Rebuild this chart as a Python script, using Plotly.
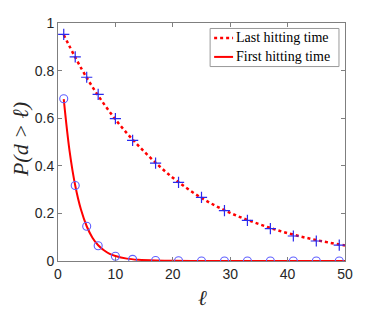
import plotly.graph_objects as go

# Marker sample points
mark_x = [1, 3, 5, 7, 10, 13, 17, 21, 25, 29, 33, 37, 41, 45, 49]
last_marks = [0.952, 0.858, 0.772, 0.700, 0.598, 0.507, 0.411, 0.330, 0.267, 0.212, 0.171, 0.136, 0.105, 0.084, 0.067]
first_marks = [0.682, 0.317, 0.146, 0.064, 0.020, 0.007, 0.002, 0.001, 0.0, 0.0, 0.0, 0.0, 0.0, 0.0, 0.0]

# Curves
last_line_x = [1, 5, 10, 15, 20, 25, 30, 35, 40, 45, 50]
last_line_y = [0.950, 0.770, 0.595, 0.460, 0.350, 0.265, 0.202, 0.155, 0.117, 0.088, 0.065]
first_line_x = [1, 2, 3, 4, 5, 6, 7, 8, 9, 10, 12, 14, 17, 20, 25, 30, 40, 50]
first_line_y = [0.680, 0.465, 0.317, 0.216, 0.146, 0.098, 0.066, 0.045, 0.030, 0.021, 0.010, 0.005, 0.002, 0.001, 0.0, 0.0, 0.0, 0.0]

series_names = ["Last hitting time", "First hitting time"]
x_ticks = [0, 10, 20, 30, 40, 50]
y_ticks = [0, 0.2, 0.4, 0.6, 0.8, 1]
y_tick_labels = ["0", "0.2", "0.4", "0.6", "0.8", "1"]

fig = go.Figure()
fig.add_trace(go.Scatter(x=last_line_x, y=last_line_y, mode="lines", line_shape="spline",
                         line=dict(color="red", width=2.5, dash="dot"), name=series_names[0]))
fig.add_trace(go.Scatter(x=first_line_x, y=first_line_y, mode="lines", line_shape="spline",
                         line=dict(color="red", width=2), name=series_names[1]))
fig.add_trace(go.Scatter(x=mark_x, y=last_marks, mode="markers", showlegend=False,
                         marker=dict(symbol="cross-thin-open", size=8, color="#2a2aee",
                                     line=dict(color="#2a2aee", width=1.2))))
fig.add_trace(go.Scatter(x=mark_x, y=first_marks, mode="markers", showlegend=False,
                         marker=dict(symbol="circle-open", size=8, color="#5f5fff",
                                     line=dict(color="#5f5fff", width=1.1))))

axis_common = dict(showgrid=False, zeroline=False, showline=True, linecolor="#7f7f7f", linewidth=1,
                   mirror="allticks", ticks="inside", ticklen=4, tickcolor="#7f7f7f", automargin=False,
                   tickfont=dict(family="Liberation Sans, Arial", size=14, color="#262626"))

# Legend drawn as a box with line samples and labels
lx0, lx1, ly0, ly1 = 0.530, 0.979, 0.817, 0.977
row_y = [0.937, 0.8575]
shapes = [dict(type="rect", xref="paper", yref="paper", x0=lx0, x1=lx1, y0=ly0, y1=ly1,
               line=dict(color="#999999", width=1), fillcolor="white", layer="above")]
shapes.append(dict(type="line", xref="paper", yref="paper", x0=0.544, x1=0.610, y0=row_y[0], y1=row_y[0],
                   line=dict(color="red", width=2.5, dash="dot"), layer="above"))
shapes.append(dict(type="line", xref="paper", yref="paper", x0=0.544, x1=0.610, y0=row_y[1], y1=row_y[1],
                   line=dict(color="red", width=2), layer="above"))

annotations = [
    dict(text="P(d > ℓ)", xref="paper", yref="paper", x=-0.128, y=0.509,
         xanchor="center", yanchor="middle", textangle=-90, showarrow=False, borderpad=0,
         font=dict(family="Liberation Serif", size=22, color="#262626", style="italic")),
    dict(text="ℓ", xref="paper", yref="paper", x=0.504, y=-0.156,
         xanchor="center", yanchor="middle", showarrow=False,
         font=dict(family="DejaVu Serif", size=21, color="#262626", style="italic")),
]
for name, ry in zip(series_names, row_y):
    annotations.append(dict(text=name, xref="paper", yref="paper", x=0.617, y=ry,
                            xanchor="left", yanchor="middle", showarrow=False, borderpad=0,
                            font=dict(family="Liberation Serif", size=14, color="black")))

fig.update_layout(
    width=374, height=307,
    margin=dict(l=50, r=37, t=15, b=54, autoexpand=False),
    paper_bgcolor="white", plot_bgcolor="white",
    xaxis=dict(range=[0, 50], tickvals=x_ticks, **axis_common),
    yaxis=dict(range=[0, 1], tickvals=y_ticks, ticktext=y_tick_labels, **axis_common),
    showlegend=False,
    shapes=shapes,
    annotations=annotations,
)

fig.write_html("out.html")
